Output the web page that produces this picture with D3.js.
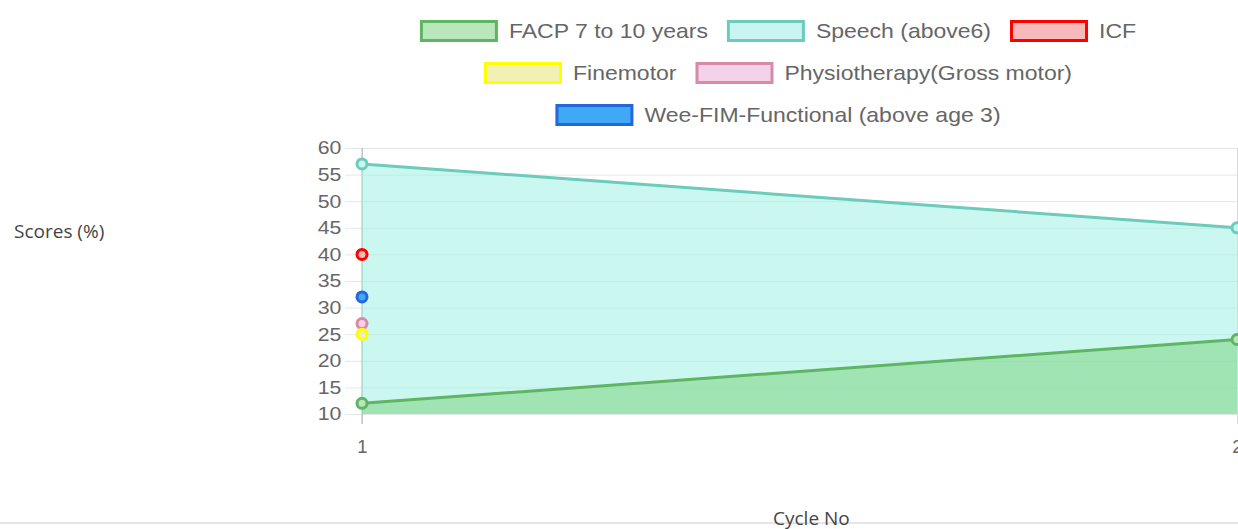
<!DOCTYPE html>
<html lang="en">
<head>
<meta charset="UTF-8">
<title>Scores by cycle</title>
<style>
  *{margin:0;padding:0;}
  body{background:#fff;overflow:hidden;}
  #container{width:1238px;height:529px;position:relative;}
  .lbl{font-family:"Open Sans",sans-serif;fill:#444;font-size:19px;}
</style>
</head>
<body>
<div id="container"></div>
<script src="https://cdnjs.cloudflare.com/ajax/libs/d3/7.8.5/d3.min.js"></script>
<script>
// data
var cycles = ['1', '2']
var seriesNames = ['FACP 7 to 10 years', 'Speech (above6)', 'ICF', 'Finemotor',
  'Physiotherapy(Gross motor)', 'Wee-FIM-Functional (above age 3)']
var facp = [12, 24]
var speech = [57, 45]
var icf = [40, null]
var finemotor = [25, null]
var physio = [27, null]
var weefim = [32, null]
var yTicks = [10, 15, 20, 25, 30, 35, 40, 45, 50, 55, 60]
var legendRows = [[0, 1, 2], [3, 4], [5]]

var borders = ['#5fb564', '#6ccbbb', '#ff0000', '#ffff00', '#d98aa6', '#2466dc']
var fills = ['#b9e6bb', '#c9f5f0', '#f7b9b9', '#f1f1b3', '#f4d2ea', '#3fa9f5']
var areaFills = ['rgba(115,210,115,0.5)', 'rgba(160,240,230,0.55)']
var values = [facp, speech, icf, finemotor, physio, weefim]

var W = 1238, H = 529
var pLeft = 362, pRight = 1237, pTop = 148, pBottom = 414
var sx = 1.15   // the canvas text looks stretched sideways

var svg = d3.select('#container').append('svg').attr('width', W).attr('height', H)

var x = d3.scalePoint().domain(cycles).range([pLeft, pRight])
var y = d3.scaleLinear().domain([10, 60]).range([pBottom, pTop])

// horizontal grid
svg.append('g').attr('transform', `translate(${pLeft - 17},0)`)
  .call(d3.axisLeft(y).tickValues(yTicks).tickSize(-(pRight - pLeft + 17)).tickFormat(''))
  .call(g => g.select('.domain').remove())
  .selectAll('line').attr('stroke', '#e6e6e6')

// vertical grid
svg.append('g').attr('transform', `translate(0,${pBottom + 10})`)
  .call(d3.axisBottom(x).tickSize(-(pBottom + 10 - pTop)).tickFormat(''))
  .call(g => g.select('.domain').remove())
  .selectAll('line').attr('stroke', '#d9d9d9')

// y labels
var ya = svg.append('g').attr('transform', `translate(${pLeft},0)`)
  .call(d3.axisLeft(y).tickValues(yTicks).tickSize(0).tickPadding(18))
ya.select('.domain').remove()
ya.selectAll('text').attr('fill', '#666').attr('font-size', 18.5)
  .attr('font-family', '"Liberation Sans", Arial, sans-serif')
  .attr('transform', `scale(${sx},1)`)

// x labels
var xa = svg.append('g').attr('transform', `translate(0,${pBottom})`)
  .call(d3.axisBottom(x).tickSize(0).tickPadding(26))
xa.select('.domain').remove()
xa.selectAll('text').attr('fill', '#666').attr('font-size', 18.5)
  .attr('font-family', '"Liberation Sans", Arial, sans-serif')

// y axis line
svg.append('line').attr('x1', pLeft).attr('x2', pLeft).attr('y1', pTop).attr('y2', pBottom + 10)
  .attr('stroke', '#b5b5b5')

// series, drawn last-to-first like the original: fills, then lines, then points
var area = d3.area().defined(d => d != null)
  .x((d, i) => x(cycles[i])).y0(y(10)).y1(d => y(d))
var line = d3.line().defined(d => d != null)
  .x((d, i) => x(cycles[i])).y(d => y(d))

var order = d3.range(values.length).reverse()
order.filter(s => s < 2).forEach(function (s) {
  svg.append('path').attr('d', area(values[s])).attr('fill', areaFills[s])
})
order.filter(s => s < 2).forEach(function (s) {
  svg.append('path').attr('d', line(values[s])).attr('fill', 'none')
    .attr('stroke', borders[s]).attr('stroke-width', 3)
})
order.forEach(function (s) {
  var v = values[s]
  svg.append('g').selectAll('circle').data(v.map((d, i) => [d, i]).filter(d => d[0] != null))
    .join('circle')
    .attr('cx', d => x(cycles[d[1]])).attr('cy', d => y(d[0]))
    .attr('r', 5).attr('fill', fills[s]).attr('stroke', borders[s]).attr('stroke-width', 3)
})

// legend
var boxW = 78, boxH = 22, txtGap = 11, itemGap = 19, center = 778
var rowY = [31, 73, 115]
legendRows.forEach(function (row, r) {
  var items = row.map(function (k) {
    var g = svg.append('g')
    g.append('rect').attr('x', 1.5).attr('y', -boxH / 2 + 1.5)
      .attr('width', boxW - 3).attr('height', boxH - 3)
      .attr('fill', fills[k]).attr('stroke', borders[k]).attr('stroke-width', 3)
    var t = g.append('text').text(seriesNames[k])
      .attr('font-family', '"Liberation Sans", Arial, sans-serif')
      .attr('font-size', 20).attr('fill', '#666').attr('dy', '0.35em')
      .attr('transform', `translate(${boxW + txtGap},0) scale(${sx},1)`)
    var w = boxW + txtGap + t.node().getComputedTextLength() * sx
    return {g: g, w: w}
  })
  var total = d3.sum(items, d => d.w) + itemGap * (items.length - 1)
  var cx = center - total / 2
  items.forEach(function (it) {
    it.g.attr('transform', `translate(${cx},${rowY[r]})`)
    cx += it.w + itemGap
  })
})

// page bits outside the canvas
svg.append('line').attr('x1', 0).attr('x2', W).attr('y1', 523).attr('y2', 523)
  .attr('stroke', '#e5e5e5').attr('stroke-width', 2)
svg.append('text').attr('class', 'lbl').attr('x', 14).attr('y', 231).attr('dy', '0.35em')
  .text('Scores (%)')
svg.append('text').attr('class', 'lbl').attr('x', 773).attr('y', 518).attr('dy', '0.35em')
  .text('Cycle No')
</script>
</body>
</html>
